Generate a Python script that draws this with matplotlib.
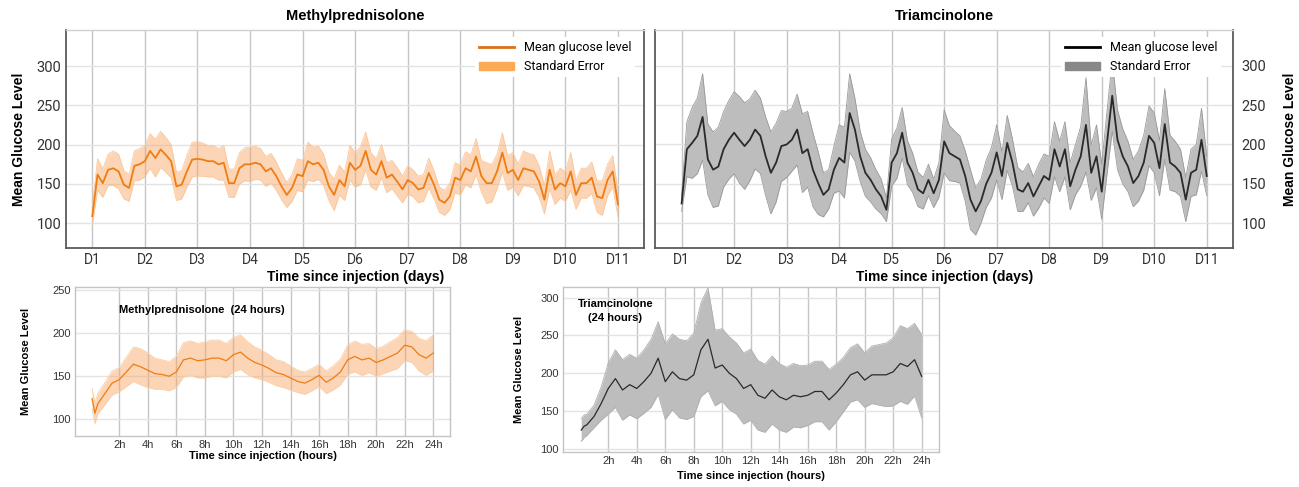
import numpy as np
import matplotlib
matplotlib.use('Agg')
import matplotlib.pyplot as plt
from matplotlib.lines import Line2D
from matplotlib.patches import Patch

# ---- data ----
days = np.round(np.linspace(1, 11, 101), 1)

methyl_mean = [109, 162, 151, 168, 170, 166, 149, 145, 173, 175,
               179, 192, 183, 194, 187, 179, 147, 149, 166, 181,
               182, 181, 179, 179, 175, 177, 151, 151, 170, 175,
               175, 177, 175, 166, 170, 160, 147, 136, 145, 162,
               160, 179, 175, 177, 168, 147, 136, 155, 147, 177,
               168, 173, 192, 168, 162, 179, 158, 162, 153, 143,
               155, 151, 143, 145, 164, 149, 130, 126, 134, 158,
               155, 170, 166, 185, 160, 151, 151, 166, 190, 164,
               168, 155, 170, 168, 166, 153, 130, 168, 143, 151,
               147, 166, 136, 151, 151, 158, 134, 132, 155, 166,
               124]
methyl_se = [12, 20, 18, 20, 22, 22, 18, 17, 19, 20,
             20, 22, 24, 23, 22, 21, 18, 18, 20, 22,
             22, 21, 20, 20, 20, 22, 18, 18, 20, 21,
             22, 21, 20, 19, 19, 18, 17, 16, 17, 20,
             20, 24, 22, 21, 20, 18, 20, 19, 18, 22,
             22, 24, 24, 22, 20, 21, 19, 18, 18, 17,
             18, 17, 17, 17, 19, 18, 16, 16, 17, 19,
             19, 21, 21, 23, 20, 26, 24, 22, 25, 22,
             22, 20, 22, 21, 21, 20, 18, 24, 19, 19,
             19, 24, 18, 19, 19, 20, 20, 22, 20, 20,
             16]

tri_mean = [125, 194, 202, 211, 235, 181, 168, 172, 194, 206,
            215, 206, 198, 206, 219, 211, 185, 164, 177, 198,
            200, 206, 219, 189, 194, 168, 151, 136, 143, 168,
            183, 177, 240, 219, 185, 164, 155, 143, 134, 117,
            177, 189, 215, 177, 164, 143, 138, 155, 138, 155,
            204, 189, 185, 181, 160, 130, 115, 128, 150, 164,
            190, 160, 202, 177, 143, 140, 151, 134, 147, 160,
            155, 194, 172, 194, 147, 168, 185, 225, 164, 185,
            140, 202, 262, 206, 185, 172, 151, 160, 177, 211,
            202, 170, 226, 177, 172, 164, 130, 164, 168, 206,
            160]
tri_se = [10, 35, 45, 48, 55, 45, 48, 50, 48, 50,
          52, 55, 55, 52, 50, 48, 50, 52, 50, 45,
          42, 40, 45, 50, 48, 47, 40, 28, 25, 30,
          42, 45, 50, 40, 32, 30, 28, 25, 22, 15,
          30, 32, 32, 28, 25, 22, 20, 20, 18, 22,
          40, 35, 32, 30, 32, 38, 30, 28, 30, 32,
          35, 30, 35, 30, 28, 25, 25, 25, 28, 28,
          30, 35, 32, 35, 30, 32, 38, 60, 35, 40,
          35, 40, 45, 38, 35, 32, 30, 32, 35, 38,
          38, 35, 45, 35, 32, 30, 28, 30, 32, 40,
          25]

hours = [0.1, 0.3] + [h / 2 for h in range(1, 49)]

methyl24_mean = [124, 107, 118, 130, 142, 146, 155, 164, 161, 157,
                 153, 152, 150, 155, 169, 171, 168, 169, 171, 171,
                 168, 175, 178, 171, 166, 163, 159, 154, 152, 148,
                 144, 142, 146, 151, 143, 148, 155, 169, 173, 169,
                 171, 166, 169, 173, 177, 186, 184, 175, 171, 177]
methyl24_se = [12, 12, 12, 13, 14, 14, 17, 20, 21, 20,
               18, 17, 17, 18, 20, 20, 20, 21, 21, 21,
               20, 20, 20, 19, 18, 17, 16, 15, 15, 14,
               13, 13, 13, 13, 13, 14, 15, 17, 18, 18,
               17, 16, 16, 17, 18, 18, 18, 19, 20, 21]

tri24_mean = [125, 130, 132, 143, 160, 180, 193, 178, 185, 180,
              189, 200, 220, 189, 202, 193, 191, 198, 231, 245,
              207, 211, 200, 193, 180, 185, 171, 167, 178, 169,
              165, 171, 169, 171, 176, 176, 165, 174, 185, 198,
              202, 191, 198, 198, 198, 202, 213, 209, 218, 196]
tri24_se = [15, 15, 14, 15, 22, 34, 38, 40, 40, 40,
            42, 45, 48, 50, 50, 52, 52, 55, 62, 68,
            50, 48, 48, 47, 47, 47, 46, 45, 45, 44,
            43, 42, 41, 40, 40, 40, 40, 38, 36, 36,
            37, 36, 38, 40, 42, 45, 50, 50, 48, 55]

day_labels = ['D%d' % d for d in range(1, 12)]
hour_ticks = list(range(2, 25, 2))
hour_labels = ['%dh' % h for h in hour_ticks]

ORANGE = '#f07c12'
ORANGE_FILL = '#f7a35c'
DARK = '#2a2a2a'
GREY_FILL = '#bdbdbd'

fig = plt.figure(figsize=(12.99, 4.87), dpi=100)

ax1 = fig.add_axes([0.0508, 0.4908, 0.4452, 0.4476])
ax2 = fig.add_axes([0.5045, 0.4908, 0.4447, 0.4476])
ax3 = fig.add_axes([0.0577, 0.1057, 0.2887, 0.3049])
ax4 = fig.add_axes([0.4334, 0.0725, 0.2894, 0.3388])


def frame(ax, dark_sides, light='#d0d0d0', dark='#5a5a5a'):
    for side, sp in ax.spines.items():
        if side in dark_sides:
            sp.set_color(dark)
            sp.set_linewidth(1.3)
        else:
            sp.set_color(light)
            sp.set_linewidth(1.0)
    ax.grid(axis='x', color='#c6c6c6', lw=1.0)
    ax.grid(axis='y', color='#e3e3e3', lw=1.0)
    ax.set_axisbelow(True)
    ax.tick_params(length=0)


def band(ax, x, m, se, line_c, fill_c, fill_alpha, edge_c, lw):
    m = np.array(m, dtype=float)
    se = np.array(se, dtype=float)
    ax.fill_between(x, m - se, m + se, color=fill_c, alpha=fill_alpha, lw=0)
    ax.plot(x, m + se, color=edge_c, lw=0.6)
    ax.plot(x, m - se, color=edge_c, lw=0.6)
    ax.plot(x, m, color=line_c, lw=lw)


# top-left: Methylprednisolone
band(ax1, days, methyl_mean, methyl_se, ORANGE, ORANGE_FILL, 0.45, '#fbc79a', 1.3)
frame(ax1, ['left', 'bottom', 'right'])
ax1.set_xlim(0.5, 11.5)
ax1.set_ylim(68.5, 346)
ax1.set_xticks(range(1, 12))
ax1.set_xticklabels(day_labels, fontsize=10, family='Roboto', color='#333333')
ax1.set_yticks([100, 150, 200, 250, 300])
ax1.set_yticklabels(['100', '150', '200', '250', '300'], fontsize=10.5, family='Roboto', color='#333333')
ax1.set_title('Methylprednisolone', fontsize=10.5, fontweight='bold', family='Liberation Sans', pad=7)
ax1.set_xlabel('Time since injection (days)', fontsize=10, fontweight='bold', family='Liberation Sans', labelpad=2)
ax1.set_ylabel('Mean Glucose Level', fontsize=10, fontweight='bold', family='Liberation Sans', labelpad=7.5)
h1 = [Line2D([0], [0], color='#d9701a', lw=2), Patch(color='#fdaa55')]
ax1.legend(h1, ['Mean glucose level', 'Standard Error'], loc='upper right',
           bbox_to_anchor=(0.995, 0.995), frameon=True, framealpha=1,
           edgecolor='none', facecolor='white', handlelength=2.8, borderpad=0.3,
           labelspacing=0.5, prop={'family': 'Roboto', 'size': 9})

# top-right: Triamcinolone
band(ax2, days, tri_mean, tri_se, DARK, GREY_FILL, 1.0, '#9a9a9a', 1.3)
frame(ax2, ['left', 'bottom', 'right'])
ax2.set_xlim(0.5, 11.5)
ax2.set_ylim(68.5, 345.5)
ax2.set_xticks(range(1, 12))
ax2.set_xticklabels(day_labels, fontsize=10, family='Roboto', color='#333333')
ax2.yaxis.tick_right()
ax2.yaxis.set_label_position('right')
ax2.set_yticks([100, 150, 200, 250, 300])
ax2.set_yticklabels(['100', '150', '200', '250', '300'], fontsize=10.5, family='Roboto', color='#333333')
ax2.tick_params(axis='y', pad=6)
ax2.set_title('Triamcinolone', fontsize=10.5, fontweight='bold', family='Liberation Sans', pad=7)
ax2.set_xlabel('Time since injection (days)', fontsize=10, fontweight='bold', family='Liberation Sans', labelpad=2)
ax2.set_ylabel('Mean Glucose Level', fontsize=10, fontweight='bold', family='Liberation Sans', labelpad=12)
h2 = [Line2D([0], [0], color='black', lw=2), Patch(color='#888888')]
ax2.legend(h2, ['Mean glucose level', 'Standard Error'], loc='upper right',
           bbox_to_anchor=(0.99, 0.995), frameon=True, framealpha=1,
           edgecolor='none', facecolor='white', handlelength=2.8, borderpad=0.3,
           labelspacing=0.5, prop={'family': 'Roboto', 'size': 9})

# bottom-left: Methylprednisolone 24 h
band(ax3, hours, methyl24_mean, methyl24_se, ORANGE, ORANGE_FILL, 0.45, '#fbd0a8', 0.9)
frame(ax3, [], light='#c4c4c4')
ax3.set_xlim(-1.1, 25.17)
ax3.set_ylim(81.2, 253.5)
ax3.set_xticks(hour_ticks)
ax3.set_xticklabels(hour_labels, fontsize=8, family='Liberation Sans', color='#333333')
ax3.set_yticks([100, 150, 200, 250])
ax3.set_yticklabels(['100', '150', '200', '250'], fontsize=8, family='Liberation Sans', color='#333333')
ax3.tick_params(pad=3)
ax3.set_xlabel('Time since injection (hours)', fontsize=8, fontweight='bold', family='Liberation Sans', labelpad=1)
ax3.set_ylabel('Mean Glucose Level', fontsize=8, fontweight='bold', family='Liberation Sans', labelpad=15)
ax3.text(2.0, 227, 'Methylprednisolone  (24 hours)', fontsize=8, fontweight='bold',
         family='Liberation Sans', va='center', ha='left')

# bottom-right: Triamcinolone 24 h
band(ax4, hours, tri24_mean, tri24_se, DARK, GREY_FILL, 1.0, '#b0b0b0', 0.9)
frame(ax4, [], light='#c4c4c4')
ax4.set_xlim(-1.18, 25.21)
ax4.set_ylim(96.4, 314.5)
ax4.set_xticks(hour_ticks)
ax4.set_xticklabels(hour_labels, fontsize=8, family='Liberation Sans', color='#333333')
ax4.set_yticks([100, 150, 200, 250, 300])
ax4.set_yticklabels(['100', '150', '200', '250', '300'], fontsize=8, family='Liberation Sans', color='#333333')
ax4.tick_params(pad=3)
ax4.set_xlabel('Time since injection (hours)', fontsize=8, fontweight='bold', family='Liberation Sans', labelpad=4)
ax4.set_ylabel('Mean Glucose Level', fontsize=8, fontweight='bold', family='Liberation Sans', labelpad=12)
ax4.text(2.5, 283, 'Triamcinolone\n(24 hours)', fontsize=8, fontweight='bold',
         family='Liberation Sans', va='center', ha='center', linespacing=1.5)

fig.savefig('out.png', dpi=100)
